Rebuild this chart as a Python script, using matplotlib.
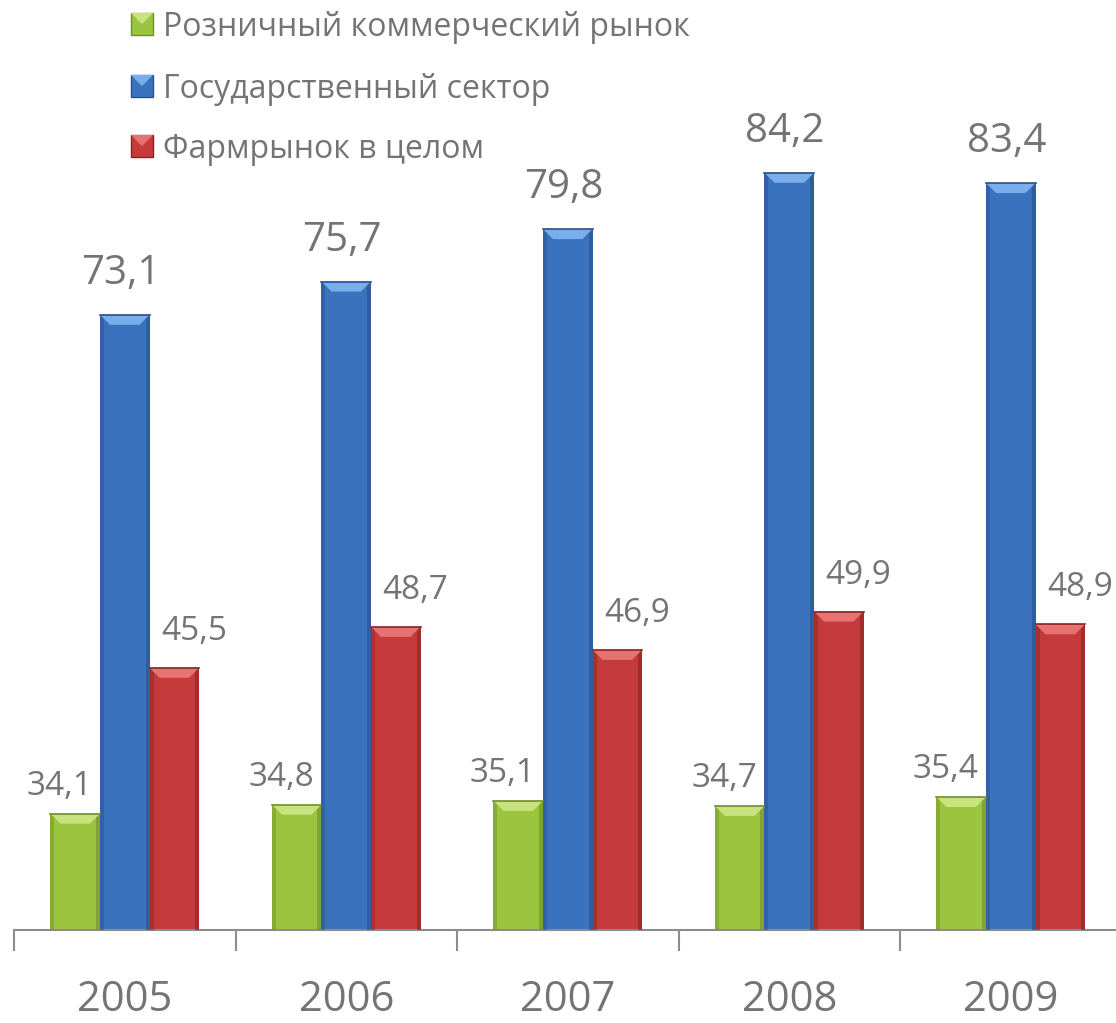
import numpy as np
import matplotlib
matplotlib.use("Agg")
import matplotlib.pyplot as plt
from matplotlib.patches import Rectangle, Polygon
from matplotlib.transforms import blended_transform_factory

plt.rcParams['font.family'] = ['Open Sans', 'DejaVu Sans']

# data
years = ['2005', '2006', '2007', '2008', '2009']
series_names = ['Розничный коммерческий рынок', 'Государственный сектор', 'Фармрынок в целом']
retail = [34.1, 34.8, 35.1, 34.7, 35.4]
state = [73.1, 75.7, 79.8, 84.2, 83.4]
total = [45.5, 48.7, 46.9, 49.9, 48.9]

# colours: body, top bevel, edge
colors = [('#9bc43f', '#c8e27e', '#6f8f2a'),
          ('#3b72bd', '#7aaeea', '#27508a'),
          ('#c53a3a', '#e77272', '#8a2323')]
label_color = '#747474'

W, H = 1116, 1023
fig = plt.figure(figsize=(W / 100, H / 100), dpi=100)
ax = fig.add_axes([14 / W, 93 / H, 1107.5 / W, 930 / H])
ymin = 25
px_y = 12.79  # px per unit
ax.set_xlim(0, len(years))
ax.set_ylim(ymin, ymin + 930 / px_y)

bar_w = 0.2235
px_x = 1107.5 / len(years)  # px per category


def fmt(v):
    return f'{v:.1f}'.replace('.', ',')


def draw_bar(x0, val, body, top, edge):
    ax.add_patch(Rectangle((x0, ymin), bar_w, val - ymin, facecolor=body,
                           edgecolor='none', zorder=2))
    # darker side edges
    ex = 4 / px_x
    ax.add_patch(Rectangle((x0, ymin), ex, val - ymin, facecolor=edge,
                           edgecolor='none', alpha=0.45, zorder=3))
    ax.add_patch(Rectangle((x0 + bar_w - ex, ymin), ex, val - ymin, facecolor=edge,
                           edgecolor='none', alpha=0.6, zorder=3))
    # top bevel
    bx = 10 / px_x
    by = 10 / px_y
    ax.add_patch(Polygon([(x0, val), (x0 + bar_w, val), (x0 + bar_w - bx, val - by),
                          (x0 + bx, val - by)], closed=True, facecolor=top,
                         edgecolor='none', zorder=4))
    ax.plot([x0, x0 + bar_w], [val, val], color=edge, lw=1.2, zorder=5)


all_series = [retail, state, total]
for i, yr in enumerate(years):
    center = i + 0.5
    for s, vals in enumerate(all_series):
        x0 = center + (s - 1.5) * bar_w
        draw_bar(x0, vals[i], *colors[s])

    # value labels
    ax.text(center - 0.293, retail[i] + 19 / px_y, fmt(retail[i]),
            ha='center', va='baseline', fontsize=24, color=label_color)
    ax.text(center - 0.02, state[i] + 31 / px_y, fmt(state[i]),
            ha='center', va='baseline', fontsize=29, color=label_color)
    ax.text(center + 0.312, total[i] + 28 / px_y, fmt(total[i]),
            ha='center', va='baseline', fontsize=24, color=label_color)

# axes styling
for side in ['left', 'right', 'top']:
    ax.spines[side].set_visible(False)
ax.spines['bottom'].set_color('#8c8c8c')
ax.spines['bottom'].set_linewidth(1.5)
ax.set_yticks([])
ax.set_xticks(np.arange(len(years) + 1))
ax.set_xticklabels([])
ax.tick_params(axis='x', which='major', direction='out', length=15, width=1.5, color='#8c8c8c')

# year labels under the axis
trans = blended_transform_factory(ax.transData, ax.transAxes)
for i, yr in enumerate(years):
    ax.text(i + 0.5, -81 / 930, yr, transform=trans, ha='center', va='baseline',
            fontsize=30, color=label_color)

# legend
leg_y = [24, 86, 146]
sq = 22
for s, name in enumerate(series_names):
    yc = 1 - leg_y[s] / H
    x0, y0 = 131 / W, yc - sq / 2 / H
    fig.patches.append(Rectangle((x0, y0), sq / W, sq / H,
                                 facecolor=colors[s][0], edgecolor=colors[s][2],
                                 lw=1, transform=fig.transFigure, figure=fig))
    fig.patches.append(Polygon([(x0, y0 + sq / H), (x0 + sq / W, y0 + sq / H),
                                (x0 + sq / 2 / W, y0 + sq / 2 / H)], closed=True,
                               facecolor=colors[s][1], edgecolor='none',
                               transform=fig.transFigure, figure=fig))
    fig.text(163 / W, yc - 3 / H, name, ha='left', va='center', fontsize=23, color=label_color)

fig.savefig('out.png', dpi=100)
